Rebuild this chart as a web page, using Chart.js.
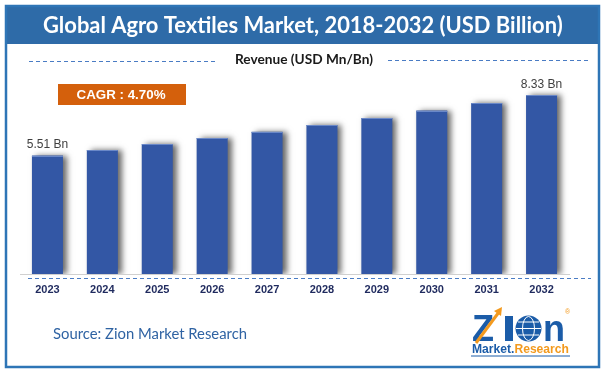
<!DOCTYPE html>
<html>
<head>
<meta charset="utf-8">
<script src="https://cdn.jsdelivr.net/npm/chart.js@4"></script>
<style>
  html, body { margin: 0; padding: 0; background: #ffffff; }
  #wrap { position: relative; width: 606px; height: 374px; }
</style>
</head>
<body>
<div id="wrap"><canvas id="c" width="606" height="374"></canvas></div>
<script>
// ---- data ----
const categories = ['2023', '2024', '2025', '2026', '2027', '2028', '2029', '2030', '2031', '2032'];
const revenue = [5.51, 5.77, 6.04, 6.32, 6.62, 6.93, 7.26, 7.60, 7.95, 8.33];
const valueLabels = ['5.51 Bn', '', '', '', '', '', '', '', '', '8.33 Bn'];
const titleText = 'Global Agro Textiles Market, 2018-2032 (USD Billion)';
const subtitleText = 'Revenue (USD Mn/Bn)';
const cagrText = 'CAGR : 4.70%';
const sourceText = 'Source: Zion Market Research';

function fitFont(ctx, text, weight, family, targetW) {
  ctx.font = weight + ' 100px ' + family;
  const w = ctx.measureText(text).width;
  const px = 100 * targetW / w;
  ctx.font = weight + ' ' + px.toFixed(2) + 'px ' + family;
  return px;
}

function dashed(ctx, x1, x2, y, color) {
  ctx.save();
  ctx.strokeStyle = color;
  ctx.lineWidth = 1;
  ctx.setLineDash([4, 3]);
  ctx.beginPath();
  ctx.moveTo(x1, y + 0.5);
  ctx.lineTo(x2, y + 0.5);
  ctx.stroke();
  ctx.restore();
}

const framePlugin = {
  id: 'frame',
  beforeDraw(chart) {
    const ctx = chart.ctx;
    ctx.save();
    ctx.fillStyle = '#ffffff';
    ctx.fillRect(0, 0, chart.width, chart.height);
    // title band
    ctx.fillStyle = '#2E6BA8';
    ctx.fillRect(5, 5, 595, 39);
    // outer border
    ctx.strokeStyle = '#2E75B6';
    ctx.lineWidth = 2.5;
    ctx.strokeRect(6, 6, 593, 361);
    // title
    ctx.fillStyle = '#ffffff';
    ctx.textAlign = 'left';
    ctx.textBaseline = 'alphabetic';
    fitFont(ctx, titleText, 'bold', 'Lato', 520);
    ctx.fillText(titleText, 43, 33);
    // subtitle
    ctx.fillStyle = '#1a1a1a';
    ctx.textAlign = 'center';
    ctx.textBaseline = 'middle';
    fitFont(ctx, subtitleText, 'bold', 'Lato', 138);
    ctx.fillText(subtitleText, 304, 60);
    dashed(ctx, 29, 218, 61, '#4A7CC4');
    dashed(ctx, 388, 591, 60, '#4A7CC4');
    // CAGR box
    ctx.fillStyle = '#D4600C';
    ctx.fillRect(58, 84, 128, 21);
    ctx.fillStyle = '#ffffff';
    fitFont(ctx, cagrText, 'bold', '"Liberation Sans"', 89);
    ctx.fillText(cagrText, 121, 95);
    // source
    ctx.fillStyle = '#2F63A3';
    ctx.textAlign = 'left';
    fitFont(ctx, sourceText, 'normal', 'Lato', 194);
    ctx.fillText(sourceText, 53, 334);
    // logo
    const blue = '#1B5CA8', orange = '#F39A1E';
    ctx.fillStyle = blue;
    ctx.textBaseline = 'alphabetic';
    ctx.font = 'bold 36px "Liberation Sans"';
    ctx.fillText('Z', 472, 341);
    ctx.fillRect(505, 316, 8, 25);
    // globe
    ctx.beginPath();
    ctx.arc(528.5, 328.5, 13, 0, Math.PI * 2);
    ctx.fill();
    ctx.strokeStyle = '#ffffff';
    ctx.lineWidth = 1;
    ctx.beginPath();
    ctx.ellipse(528.5, 328.5, 6, 12, 0, 0, Math.PI * 2);
    ctx.moveTo(516, 328.5); ctx.lineTo(541, 328.5);
    ctx.moveTo(518, 322); ctx.lineTo(539, 322);
    ctx.moveTo(518, 335); ctx.lineTo(539, 335);
    ctx.stroke();
    ctx.fillStyle = blue;
    ctx.font = 'bold 36px "Liberation Sans"';
    ctx.fillText('n', 543, 341);
    // arrow across Z
    ctx.strokeStyle = orange;
    ctx.lineWidth = 3;
    ctx.beginPath();
    ctx.moveTo(476, 343); ctx.lineTo(499, 312);
    ctx.stroke();
    ctx.fillStyle = orange;
    ctx.beginPath();
    ctx.moveTo(502, 307); ctx.lineTo(494, 311); ctx.lineTo(501, 316);
    ctx.closePath(); ctx.fill();
    ctx.font = '7px "Liberation Sans"';
    ctx.fillText('®', 565, 314);
    const mText = 'Market.', rText = 'Research';
    fitFont(ctx, mText + rText, 'bold', '"Liberation Sans"', 97);
    ctx.fillStyle = blue;
    ctx.fillText(mText, 472, 353);
    const mw = ctx.measureText(mText).width;
    ctx.fillStyle = orange;
    ctx.fillText(rText, 472 + mw, 353);
    ctx.strokeStyle = blue;
    ctx.lineWidth = 1;
    ctx.beginPath();
    ctx.moveTo(471, 356); ctx.lineTo(570, 356);
    ctx.stroke();
    ctx.restore();
  },
  beforeDatasetsDraw(chart) {
    const ctx = chart.ctx;
    ctx.save();
    ctx.shadowColor = 'rgba(0,0,0,0.6)';
    ctx.shadowOffsetX = 4;
    ctx.shadowOffsetY = 0;
    ctx.shadowBlur = 6;
  },
  afterDatasetsDraw(chart) {
    const ctx = chart.ctx;
    ctx.restore();
    const meta = chart.getDatasetMeta(0);
    ctx.save();
    // light top edge on each bar
    ctx.strokeStyle = '#6A88C8';
    ctx.lineWidth = 1;
    meta.data.forEach((bar) => {
      ctx.beginPath();
      ctx.moveTo(bar.x - bar.width / 2, Math.round(bar.y) + 0.5);
      ctx.lineTo(bar.x + bar.width / 2, Math.round(bar.y) + 0.5);
      ctx.stroke();
    });
    ctx.fillStyle = '#404040';
    ctx.font = '12px "Liberation Sans"';
    ctx.textAlign = 'center';
    ctx.textBaseline = 'middle';
    meta.data.forEach((bar, i) => {
      if (valueLabels[i]) ctx.fillText(valueLabels[i], bar.x, bar.y - 10.5);
    });
    ctx.restore();
  },
  afterDraw(chart) {
    dashed(chart.ctx, 28, 591, 278, '#4A7CC4');
  }
};

new Chart(document.getElementById('c'), {
  type: 'bar',
  data: {
    labels: categories,
    datasets: [{
      data: revenue,
      backgroundColor: '#3357A5',
      borderWidth: 0,
      barPercentage: 0.565,
      categoryPercentage: 1.0
    }]
  },
  options: {
    responsive: false,
    animation: false,
    devicePixelRatio: 1,
    layout: { padding: { left: 20, right: 37, top: 59, bottom: 0 } },
    plugins: { legend: { display: false }, tooltip: { enabled: false }, title: { display: false } },
    scales: {
      x: {
        grid: { display: false, drawTicks: false },
        border: { display: true, color: '#D0D0D0', width: 1 },
        ticks: {
          color: '#1F2A5E',
          font: { family: '"Liberation Sans"', size: 11, weight: 'bold' },
          padding: 9,
          maxRotation: 0
        },
        afterFit(scale) { scale.height = 100; }
      },
      y: { display: false, min: 0, max: 10 }
    }
  },
  plugins: [framePlugin]
});
</script>
</body>
</html>
